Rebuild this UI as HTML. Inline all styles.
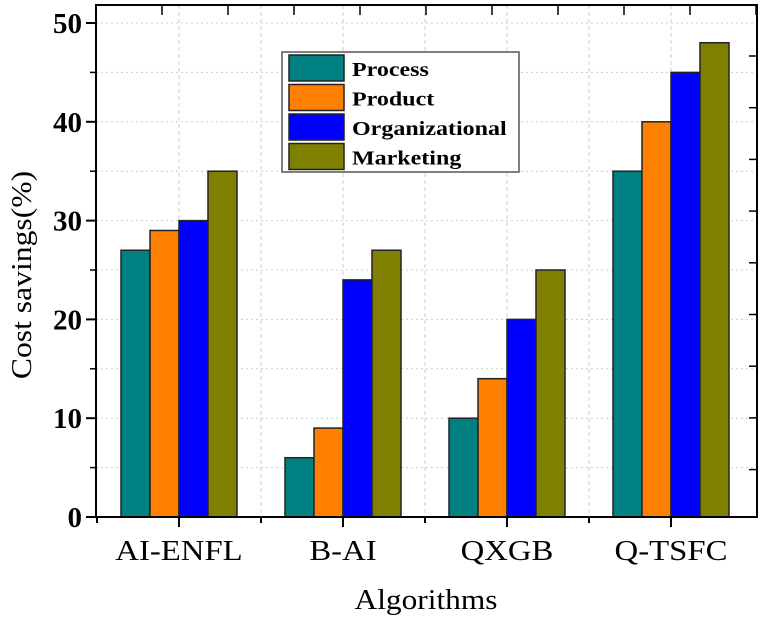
<!DOCTYPE html>
<html><head><meta charset="utf-8"><style>
body{margin:0;background:#fff}
svg{display:block;font-family:"Liberation Serif",serif}
</style></head><body>
<svg id="c" width="761" height="618"></svg>
<script>
const categories=["AI-ENFL","B-AI","QXGB","Q-TSFC"];
const seriesNames=["Process","Product","Organizational","Marketing"];
const processVals=[27,6,10,35];
const productVals=[29,9,14,40];
const orgVals=[30,24,20,45];
const marketingVals=[35,27,25,48];
const yTicks=[0,10,20,30,40,50];
const colors=["#008080","#ff8000","#0000ff","#808000"];
const series=[processVals,productVals,orgVals,marketingVals];
const NS="http://www.w3.org/2000/svg";
const svg=document.getElementById('c');
const L=96,R=757,T=5,B=517;
const y=v=>B-v*(B-23)/50;
const xc=i=>179+i*164;
function el(t,a,p){const e=document.createElementNS(NS,t);for(const k in a)e.setAttribute(k,a[k]);(p||svg).appendChild(e);return e;}
function tl(t,txt,sc){t.textContent=txt;const w=t.getComputedTextLength();t.setAttribute('textLength',w*sc);t.setAttribute('lengthAdjust','spacingAndGlyphs');}
for(let v=5;v<=50;v+=5){const g=el('line',{x1:L,x2:R,y1:y(v),y2:y(v),stroke:'#ccc','stroke-dasharray':'2,3'});

}
for(let k=0;k<7;k++){const xx=179+k*82;const g=el('line',{x1:xx,x2:xx,y1:T,y2:B,stroke:'#ccc','stroke-dasharray':'4,3'});

}
const bw=29;
series.forEach((s,si)=>{s.forEach((v,i)=>{const x0=xc(i)-58+si*bw;
const r=el('rect',{x:x0,y:y(v),width:bw,height:B-y(v),fill:colors[si],stroke:'#222','stroke-width':1.5});

});});
const f=el('rect',{x:L,y:T,width:R-L,height:B-T,fill:'none',stroke:'#000','stroke-width':2});


yTicks.forEach(v=>{el('line',{x1:L-10,x2:L,y1:y(v),y2:y(v),stroke:'#000','stroke-width':2});
const t=el('text',{x:82,y:y(v)+10,'text-anchor':'end','font-size':29,'font-weight':'bold'});t.textContent=v;

});
for(let v=5;v<50;v+=10)el('line',{x1:L-6,x2:L,y1:y(v),y2:y(v),stroke:'#000','stroke-width':1.5});
for(let yy=56;yy<B;yy+=51.7)el('line',{x1:R-8,x2:R,y1:yy,y2:yy,stroke:'#000','stroke-width':1.5});
for(let xx=162;xx<R;xx+=66)el('line',{x1:xx,x2:xx,y1:T,y2:T+10,stroke:'#000','stroke-width':1.5});
for(let k=0;k<7;k++){const xx=179+k*82;el('line',{x1:xx,x2:xx,y1:B,y2:B+(k%2?6:10),stroke:'#000','stroke-width':2});}
el('line',{x1:97,x2:97,y1:B,y2:B+6,stroke:'#000','stroke-width':2});
categories.forEach((c,i)=>{const t=el('text',{x:xc(i),y:560,'text-anchor':'middle','font-size':28});tl(t,c,1.17);

});
const xt=el('text',{x:426,y:609,'text-anchor':'middle','font-size':28});tl(xt,"Algorithms",1.12);


const yt=el('text',{x:0,y:0,'text-anchor':'middle','font-size':28,transform:'translate(31,275) rotate(-90)'});tl(yt,"Cost savings(%)",1.13);


const lg=el('g',{});


el('rect',{x:282,y:52,width:237,height:120,fill:'#fff',stroke:'#555','stroke-width':1.5},lg);
seriesNames.forEach((n,i)=>{const yy=55+i*29.5;
el('rect',{x:289,y:yy,width:55,height:26,fill:colors[i],stroke:'#222','stroke-width':1.5},lg);
const t=el('text',{x:352,y:yy+21,'font-size':20,'font-weight':'bold'},lg);tl(t,n,1.2);

});
</script>
</body></html>
